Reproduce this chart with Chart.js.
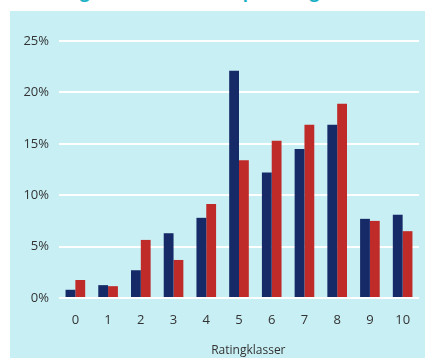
<!DOCTYPE html>
<html>
<head>
<meta charset="utf-8">
<script src="https://cdn.jsdelivr.net/npm/chart.js@4"></script>
<style>
  html, body { margin: 0; padding: 0; background: #fff; }
  body { width: 425px; height: 358px; position: relative; overflow: hidden; font-family: "Open Sans", sans-serif; }
  .heading { position: absolute; left: 0; top: 0; width: 425px; height: 11px; overflow: hidden; }
  .heading span { position: absolute; left: 10px; top: -17px; white-space: nowrap; color: #1ab0c6; font-weight: bold; font-size: 17px; line-height: 17px; }
  .panel { position: absolute; left: 10px; top: 11px; width: 415px; height: 347px; background: #c8eff4; }
  canvas { position: absolute; left: 0; top: 0; }
</style>
</head>
<body>
<div class="heading"><span>Fordeling af erhvervsudlån på ratingklasser</span></div>
<div class="panel"><canvas id="chart" width="415" height="347"></canvas></div>
<script>
// rating classes 0-10, share of portfolio in percent
const categories = ['0', '1', '2', '3', '4', '5', '6', '7', '8', '9', '10'];
const seriesNavy = [0.8, 1.25, 2.7, 6.3, 7.8, 22.1, 12.2, 14.5, 16.85, 7.7, 8.1];
const seriesRed = [1.75, 1.15, 5.65, 3.7, 9.15, 13.4, 15.3, 16.85, 18.9, 7.5, 6.5];
const yTicks = [0, 5, 10, 15, 20, 25];

const tickFont = { family: 'Open Sans', size: 13 };

new Chart(document.getElementById('chart'), {
  type: 'bar',
  data: {
    labels: categories,
    datasets: [
      { data: seriesNavy, backgroundColor: '#152a66' },
      { data: seriesRed, backgroundColor: '#bf2b29' }
    ]
  },
  options: {
    responsive: false,
    animation: false,
    layout: { padding: { top: 30, right: 6, bottom: 0, left: 0 } },
    datasets: { bar: { categoryPercentage: 0.6, barPercentage: 1 } },
    plugins: { legend: { display: false }, tooltip: { enabled: false } },
    scales: {
      x: {
        grid: { display: false, drawTicks: false },
        border: { display: false },
        ticks: { color: '#333', font: tickFont, padding: 14 },
        title: {
          display: true,
          text: '      Ratingklasser',
          color: '#333',
          font: { family: 'Open Sans', size: 12 },
          padding: { top: 2, bottom: 0 }
        }
      },
      y: {
        min: 0,
        max: 25,
        afterBuildTicks: (scale) => { scale.ticks = yTicks.map(v => ({ value: v })); },
        afterFit: (scale) => { scale.width = 49; },
        grid: { color: '#ffffff', lineWidth: 2, drawTicks: false },
        border: { display: false },
        ticks: { color: '#333', font: tickFont, padding: 10, callback: v => v + '%' }
      }
    }
  }
});
</script>
</body>
</html>
